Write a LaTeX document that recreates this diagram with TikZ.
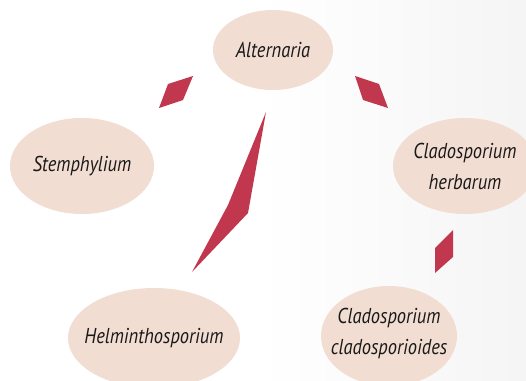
\documentclass[tikz,border=0pt]{standalone}
\usepackage{fontspec}
\setmainfont{PT Sans}[FakeStretch=0.86]
\usetikzlibrary{shapes.geometric}
\definecolor{peach}{HTML}{F2DDD2}
\definecolor{wine}{HTML}{C1384E}
\begin{document}
\begin{tikzpicture}[x=1pt,y=-1pt,
  taxon/.style={ellipse, fill=peach, inner sep=0pt},
  taxtext/.style={inner sep=0pt, align=center, text=black!90,
    font=\fontsize{21.5}{31}\selectfont\itshape},
  shard/.style={fill=wine, draw=none}]
\fill[white] (0,0) rectangle (526,380);
\shade[left color=white, right color=black!4] (260,0) rectangle (526,380);
\useasboundingbox (0,0) rectangle (526,380);
\node[taxon, minimum width=120, minimum height=80,
  label={[taxtext]center:Alternaria}] (alt) at (273,50) {};
\node[taxon, minimum width=144, minimum height=96,
  label={[taxtext]center:Stemphylium}] (stem) at (82,166) {};
\node[taxon, minimum width=144, minimum height=96,
  label={[taxtext]center:{Cladosporium\\herbarum}}] (herb) at (465,166) {};
\node[taxon, minimum width=172, minimum height=100,
  label={[taxtext]center:Helminthosporium}] (helm) at (154,338) {};
\node[taxon, minimum width=136, minimum height=100,
  label={[taxtext, yshift=3pt]center:{Cladosporium\\cladosporioides}}] (clad) at (389,336) {};
\fill[shard] (193,76) -- (168,84) -- (159,108) -- (183,100) -- cycle;
\fill[shard] (355,76) -- (379,84) -- (388,108) -- (363,100) -- cycle;
\fill[shard] (266,112) -- (248,213) -- (192,272) -- (228,205) -- cycle;
\fill[shard] (453,230) -- (453,257) -- (435,273) -- (435,248) -- cycle;
\end{tikzpicture}
\end{document}
